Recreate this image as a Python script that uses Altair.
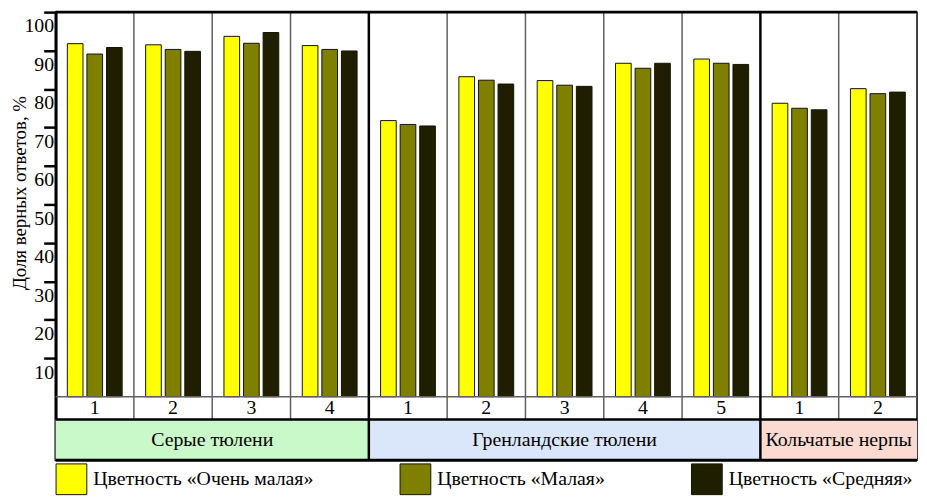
import altair as alt
import pandas as pd

# ---------------- data ----------------
groups = ["Серые тюлени", "Гренландские тюлени", "Кольчатые нерпы"]
group_sizes = [4, 5, 2]
series = ["Цветность «Очень малая»", "Цветность «Малая»", "Цветность «Средняя»"]
very_small = [91.8, 91.5, 93.7, 91.3, 71.8, 83.2, 82.2, 86.7, 87.8, 76.3, 80.1]
small = [89.1, 90.3, 91.9, 90.3, 70.8, 82.3, 81.0, 85.4, 86.7, 75.0, 78.8]
medium = [90.8, 89.8, 94.7, 89.9, 70.4, 81.3, 80.7, 86.7, 86.4, 74.6, 79.2]
y_ticks = [10, 20, 30, 40, 50, 60, 70, 80, 90, 100]

# ---------------- styles ----------------
bar_colors = ["#ffff00", "#7f7f00", "#1f1f00"]
group_fills = ["#c9f8c9", "#dae6fa", "#fbdad2"]
FONT = "Liberation Serif"
Y_TOP = 100
NUM_BOTTOM = -5.93
Y_MIN = -16.5

# ---------------- tables ----------------
subs, nums, idxs, starts, ends = [], [], [], [], []
i = 0
for g, n in zip(groups, group_sizes):
    starts.append(i)
    for k in range(1, n + 1):
        subs.append(f"{g} {k}")
        nums.append(str(k))
        idxs.append(i)
        i += 1
    ends.append(i)
total = i

rows = []
for s, vals in zip(series, [very_small, small, medium]):
    for sub, v in zip(subs, vals):
        rows.append({"sub": sub, "series": s, "value": v})
bars_df = pd.DataFrame(rows)
cells_df = pd.DataFrame({"idx": idxs, "num": nums})
groups_df = pd.DataFrame({"group": groups, "start": starts, "end": ends})
major = starts[1:]
minor = [b for b in range(1, total) if b not in major]
minor_df = pd.DataFrame({"b": minor})
major_df = pd.DataFrame({"b": major})
one = pd.DataFrame({"k": [0]})

band = alt.Scale(domain=subs, paddingInner=0, paddingOuter=0)
qx = alt.Scale(domain=[0, total], nice=False, zero=False)
ys = alt.Scale(domain=[Y_MIN, Y_TOP], nice=False, zero=False)

yaxis = alt.Axis(
    values=y_ticks, grid=False,
    tickSize=12, tickWidth=2.5, tickColor="black",
    domainColor="black", domainWidth=3,
    labelFont=FONT, labelFontSize=20, labelColor="black",
    labelPadding=-10, labelBaseline="top", labelOffset=4, labelFlush=False,
    title="Доля верных ответов, %", titleFont=FONT, titleFontSize=19,
    titleFontWeight="normal", titleColor="black",
    titleX=-45, titleY=182, titleBaseline="top", titleAngle=270,
)

group_rects = alt.Chart(groups_df).mark_rect().encode(
    x=alt.X("start:Q", scale=qx, axis=None),
    x2="end:Q",
    y=alt.datum(NUM_BOTTOM, scale=ys),
    y2=alt.datum(Y_MIN),
    color=alt.Color("group:N", scale=alt.Scale(domain=groups, range=group_fills), legend=None),
)

bars = alt.Chart(bars_df).mark_bar(stroke="#141400", strokeWidth=1).encode(
    x=alt.X("sub:N", scale=band, sort=subs, axis=None),
    xOffset=alt.XOffset("series:N", sort=series,
                        scale=alt.Scale(domain=series, paddingInner=0.2, paddingOuter=0.6)),
    y=alt.Y("value:Q", scale=ys, axis=yaxis),
    y2=alt.datum(0),
    color=alt.Color("series:N", sort=series,
                    scale=alt.Scale(domain=series, range=bar_colors),
                    legend=alt.Legend(
                        title=None, orient="none", legendX=0, legendY=455,
                        direction="horizontal", symbolType="square", symbolSize=961,
                        symbolStrokeColor="#141400", symbolStrokeWidth=1, symbolOpacity=1,
                        labelFont=FONT, labelFontSize=20, labelColor="black",
                        labelOffset=6, columnPadding=84, labelLimit=0, padding=0,
                    )),
)

minor_rules = alt.Chart(minor_df).mark_rule(color="#606060", strokeWidth=1.5).encode(
    x=alt.X("b:Q", scale=qx, axis=None),
    y=alt.datum(Y_TOP),
    y2=alt.datum(NUM_BOTTOM),
)

zero_line = alt.Chart(one).mark_rule(color="#606060", strokeWidth=1.5).encode(y=alt.datum(0))

num_text = alt.Chart(cells_df).transform_calculate(xc="datum.idx + 0.5").mark_text(
    font=FONT, fontSize=20, color="black", baseline="middle"
).encode(
    x=alt.X("xc:Q", scale=qx, axis=None),
    y=alt.datum(NUM_BOTTOM / 2),
    text="num:N",
)

group_text = alt.Chart(groups_df).transform_calculate(xc="(datum.start + datum.end) / 2").mark_text(
    font=FONT, fontSize=20, color="black", baseline="middle"
).encode(
    x=alt.X("xc:Q", scale=qx, axis=None),
    y=alt.datum((NUM_BOTTOM + Y_MIN) / 2),
    text="group:N",
)

major_rules = alt.Chart(major_df).mark_rule(color="black", strokeWidth=2.5).encode(
    x=alt.X("b:Q", scale=qx, axis=None),
    y=alt.datum(Y_TOP),
    y2=alt.datum(Y_MIN),
)

num_line = alt.Chart(one).mark_rule(color="black", strokeWidth=2.5).encode(y=alt.datum(NUM_BOTTOM))
top_line = alt.Chart(one).mark_rule(color="black", strokeWidth=3).encode(y=alt.datum(Y_TOP))
bottom_line = alt.Chart(one).mark_rule(color="black", strokeWidth=3).encode(y=alt.datum(Y_MIN))

chart = alt.layer(
    group_rects, bars, minor_rules, zero_line, num_text, group_text,
    major_rules, num_line, top_line, bottom_line,
).resolve_scale(
    x="independent", color="independent"
).properties(
    width=869, height=452,
    padding={"left": 3, "top": 0, "right": 0, "bottom": 0},
).configure_view(stroke="black", strokeWidth=1.5)

chart.save("out.html", embed_options={"renderer": "svg", "actions": False})
